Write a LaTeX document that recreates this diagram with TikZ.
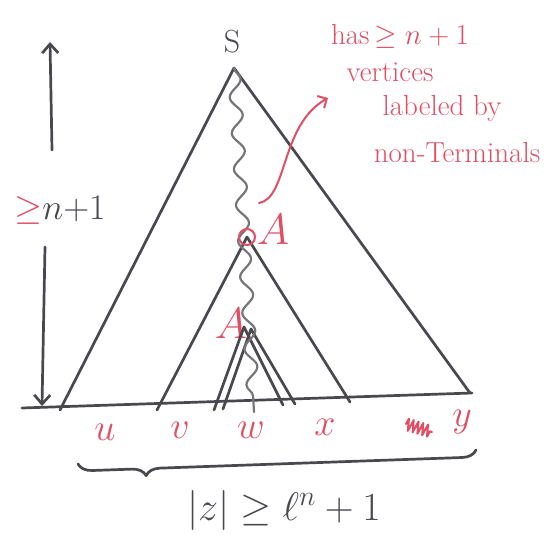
\RequirePackage{fix-cm}
\documentclass[tikz,border=0pt]{standalone}
\usepackage{tikz}
\usetikzlibrary{arrows.meta,positioning,decorations.pathmorphing,decorations.pathreplacing}

\definecolor{pencil}{RGB}{72,72,78}
\definecolor{redpen}{RGB}{224,78,100}

\begin{document}
\begin{tikzpicture}[x=1pt, y=-1pt, line cap=round, line join=round,
	pencil/.style={draw=pencil, line width=2.7pt},
	ink/.style={draw=redpen, line width=2pt},
	lbl/.style={text=redpen, inner sep=0pt, font=\fontsize{38}{40}\selectfont},
	note/.style={text=redpen, inner sep=0pt, font=\fontsize{29}{31}\selectfont},
	tip/.style={-{Straight Barb[length=9pt,width=16pt]}}]
	\useasboundingbox (0,0) rectangle (544,538);

	% Points of the trees
	\coordinate (S0) at (234,68);
	\coordinate (L1) at (60,410);
	\coordinate (R1) at (470,393);
	\coordinate (A1c) at (247,237);
	\coordinate (L2) at (157,410);
	\coordinate (R2) at (350,402);
	\coordinate (A2c) at (244,327);
	\coordinate (L3) at (214,410);
	\coordinate (R3) at (283,405);
	\coordinate (A2d) at (251,329);
	\coordinate (L4) at (223,409);
	\coordinate (R4) at (295,404);
	\coordinate (W0) at (254,412);
	\coordinate (base0) at (22,408);
	\coordinate (base1) at (472,393);

	% Nodes
	\node[text=pencil, font=\fontsize{32}{34}\selectfont] (S) at (232,42) {S};
	\node[lbl, font=\fontsize{44}{46}\selectfont] (A1) at (273,229) {$A$};
	\node[lbl, font=\fontsize{44}{46}\selectfont] (A2) at (231,323) {$A$};
	\node[lbl] (u) at (105,432) {$u$};
	\node[lbl] (v) at (180,430) {$v$};
	\node[lbl] (w) at (251,430) {$w$};
	\node[lbl] (x) at (325,427) {$x$};
	\node[lbl] (y) at (462,422) {$y$};
	\node[text=pencil, font=\fontsize{40}{42}\selectfont] (zlen) at (284,510) {$|z|\geq\ell^n+1$};
	\node[text=pencil, font=\fontsize{36}{38}\selectfont] (height) at (60,210) {{\color{redpen}$\geq$}$n{+}1$};

	% Notes
	\node[note] (note1) at (400,36) {has\,$\geq n+1$};
	\node[note] (note2) at (390,72) {vertices};
	\node[note] (note3) at (442,108) {labeled by};
	\node[note] (note4) at (457,153) {non-Terminals};

	% Trees
	\draw[pencil] (base0) -- (base1);
	\draw[pencil] (L1) -- (S0) -- (R1);
	\draw[pencil] (L2) -- (A1c) -- (R2);
	\draw[pencil] (L3) -- (A2c) -- (R3);
	\draw[pencil] (L4) -- (A2d) -- (R4);
	\draw[pencil, draw=pencil!75, line width=2.2pt, decorate,
		decoration={snake, amplitude=6pt, segment length=36pt}] (S0) -- (W0);
	\draw[ink] (A1c) circle[radius=8pt];

	% Height arrows
	\coordinate (htop) at (50,42);
	\coordinate (gaptop) at (52,150);
	\coordinate (gapbot) at (45,247);
	\coordinate (hbot) at (42,406);
	\draw[pencil, tip] (gaptop) -- (htop);
	\draw[pencil, tip] (gapbot) -- (hbot);

	% Brace under the yield
	\coordinate (br0) at (78,464);
	\coordinate (br1) at (476,450);
	\draw[pencil, decorate, decoration={brace, mirror, amplitude=14pt, aspect=0.17}] (br0) -- (br1);

	% Annotation
	\coordinate (nstart) at (259,203);
	\coordinate (ntip) at (328,98);
	\draw[ink, -{Straight Barb[length=7pt,width=14pt]}] (nstart) .. controls (288,198) and (280,125) .. (ntip);
	\coordinate (scr0) at (406,424);
	\coordinate (scr1) at (432,432);
	\draw[ink, decorate, decoration={zigzag, amplitude=6pt, segment length=5pt}] (scr0) -- (scr1);
\end{tikzpicture}
\end{document}
